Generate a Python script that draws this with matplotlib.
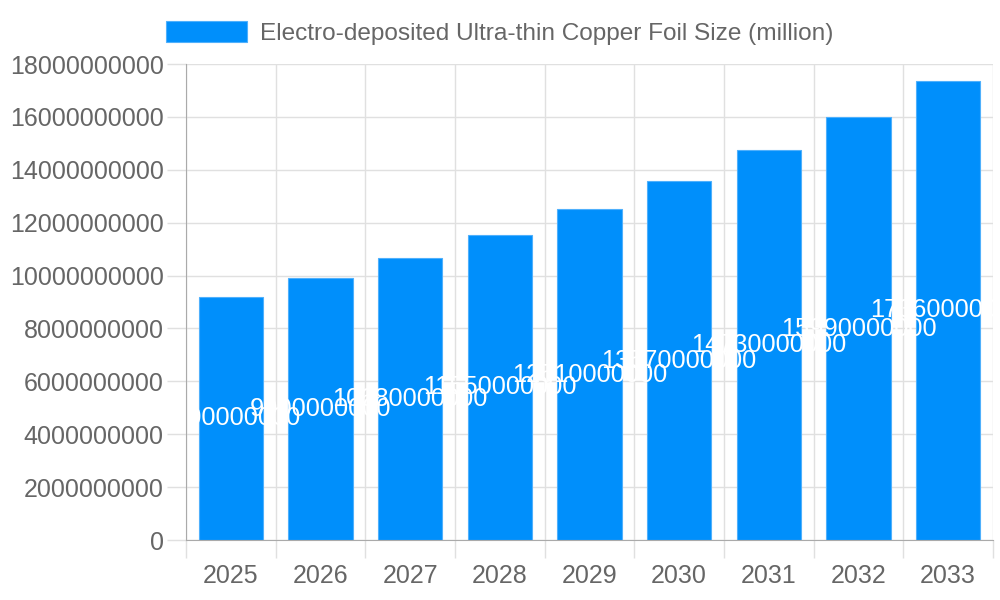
import numpy as np
import matplotlib.pyplot as plt
from matplotlib.ticker import MultipleLocator, FixedLocator

years = ["2025", "2026", "2027", "2028", "2029", "2030", "2031", "2032", "2033"]
foil_size = [9200000000, 9900000000, 10680000000, 11550000000, 12510000000,
             13570000000, 14730000000, 15990000000, 17360000000]
series_name = "Electro-deposited Ultra-thin Copper Foil Size (million)"

BAR_COLOR = "#008ffb"
TEXT_COLOR = "#666666"
GRID_COLOR = "#e0e0e0"
AXIS_COLOR = "#aaaaaa"

plt.rcParams["font.family"] = ["Liberation Sans", "DejaVu Sans"]

fig = plt.figure(figsize=(10, 6), dpi=100)
ax = fig.add_axes([0.186, 0.1, 0.807, 0.7933])

x = np.arange(len(years))
bars = ax.bar(x, foil_size, width=0.72, color=BAR_COLOR, edgecolor="#4fb0fc",
              linewidth=0.8, label=series_name, zorder=2)

# value labels sit in the middle of each bar, as in the source chart
for xi, v in zip(x, foil_size):
    ax.text(xi, v / 2, str(v), ha="center", va="center", color="white",
            fontsize=18.3, zorder=3)

ax.set_xlim(-0.5, len(years) - 0.5)
ax.set_ylim(0, 18000000000)
ax.yaxis.set_major_locator(MultipleLocator(2000000000))
ax.yaxis.set_major_formatter(plt.FuncFormatter(lambda v, p: f"{int(round(v))}"))
ax.set_xticks(x)
ax.set_xticklabels(years)

# vertical grid at category boundaries
ax.xaxis.set_minor_locator(FixedLocator(np.arange(-0.5, len(years), 1.0)))
ax.grid(which="minor", axis="x", color=GRID_COLOR, linewidth=1, zorder=0)
ax.grid(which="major", axis="y", color=GRID_COLOR, linewidth=1, zorder=0)
ax.tick_params(axis="x", which="major", length=0, pad=17, labelsize=18, labelcolor=TEXT_COLOR)
ax.tick_params(axis="x", which="minor", length=13, color=GRID_COLOR, width=1)
ax.tick_params(axis="y", length=14, color=GRID_COLOR, width=1, pad=2,
               labelsize=18, labelcolor=TEXT_COLOR)

for side in ["top", "right"]:
    ax.spines[side].set_visible(False)
ax.spines["left"].set_color(AXIS_COLOR)
ax.spines["bottom"].set_color(AXIS_COLOR)
ax.spines["left"].set_zorder(4)
ax.spines["bottom"].set_zorder(4)

fig.legend(handles=[bars], labels=[series_name], loc="center", bbox_to_anchor=(0.5, 0.945),
           frameon=False, fontsize=17.6, labelcolor=TEXT_COLOR, handlelength=3.3,
           handleheight=0.95, handletextpad=0.55)

fig.savefig("out.png", dpi=100)
